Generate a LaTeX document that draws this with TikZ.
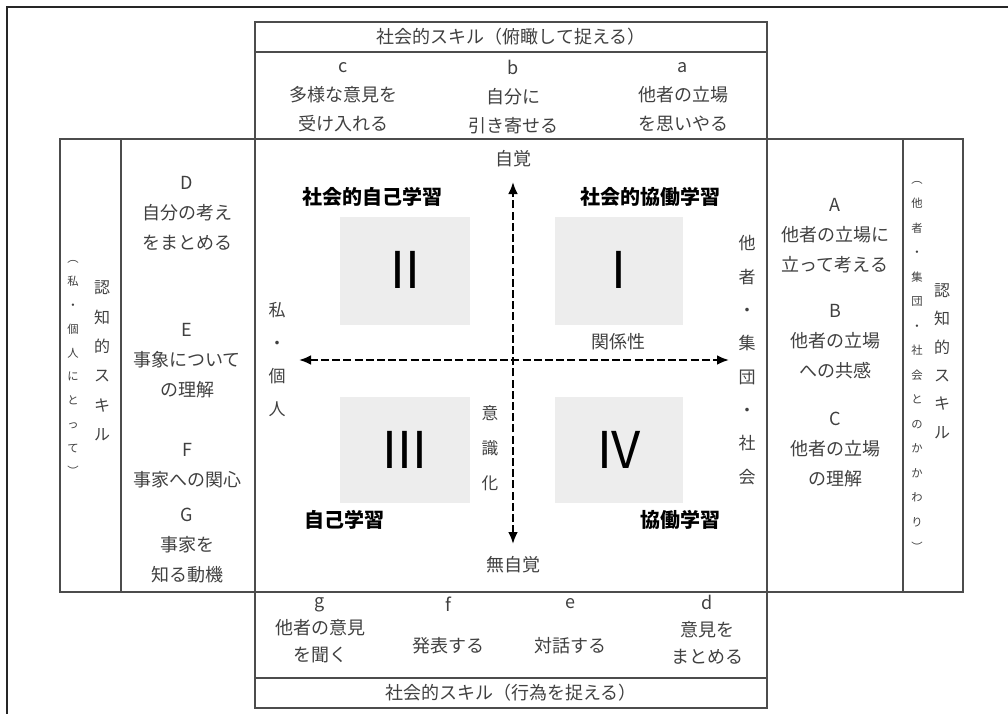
\documentclass[tikz,border=0pt]{standalone}
\usepackage{fontspec}
\setmainfont{Noto Sans CJK JP}
\usetikzlibrary{arrows.meta}

\begin{document}
\begin{tikzpicture}
        [x=0.75pt, y=-0.75pt,
        frameline/.style={draw=black!85, line width=1.1pt},
        cell/.style={draw=black!70, line width=1.4pt},
        quad/.style={fill=black!7},
        txt/.style={font=\fontsize{13.5}{22.5}\selectfont, text=black!75, align=center, inner sep=0pt},
        toprow/.style={font=\fontsize{13.5}{21.75}\selectfont},
        botrow/.style={font=\fontsize{13.5}{20.25}\selectfont},
        heading/.style={font=\fontsize{15}{18}\selectfont\bfseries, text=black, inner sep=0pt},
        roman/.style={font=\fontsize{38}{40}\selectfont, text=black, inner sep=0pt},
        axis/.style={line width=2.2pt, dash pattern=on 6pt off 2.4pt,
            {Latex[length=9pt,width=7.5pt]}-{Latex[length=9pt,width=7.5pt]}}]

        \useasboundingbox (0,0) rectangle (1008,714);

        % outer frame (only top and left edges show)
        \draw[frameline] (7,714) -- (7,7) -- (1008,7);

        % table cells
        \draw[cell] (255,22) rectangle (767,139);
        \draw[cell] (255,52) -- (767,52);
        \draw[cell] (60,139) rectangle (121,592);
        \draw[cell] (121,139) rectangle (255,592);
        \draw[cell] (255,139) rectangle (767,592);
        \draw[cell] (767,139) rectangle (903,592);
        \draw[cell] (903,139) rectangle (963,592);
        \draw[cell] (255,592) rectangle (767,708);
        \draw[cell] (255,678) -- (767,678);

        % quadrant boxes
        \fill[quad] (340,217) rectangle (470,325);
        \fill[quad] (555,217) rectangle (683,325);
        \fill[quad] (340,397) rectangle (470,503);
        \fill[quad] (555,397) rectangle (683,503);

        \node[roman] (q2) at (405,270) {II};
        \node[roman] (q1) at (619,270) {I};
        \node[roman] (q3) at (405,450) {III};
        \node[roman] (q4) at (619,450) {IV};

        % axes
        \coordinate (up) at (513,182);
        \coordinate (dn) at (513,544);
        \coordinate (lt) at (299,360);
        \coordinate (rt) at (729,360);
        \draw[axis] (dn) -- (up);
        \draw[axis] (lt) -- (rt);

        \node[txt] (jikaku) at (513,159) {自覚};
        \node[txt] (mujikaku) at (513,565) {無自覚};
        \node[txt] (kankei) at (618,342) {関係性};
        \node[txt, font=\fontsize{12.5}{26.25}\selectfont] (ishiki) at (490,448) {意\\識\\化};
        \node[txt, font=\fontsize{12.75}{24.75}\selectfont] (watashi) at (277,360) {私\\・\\個\\人};
        \node[txt, font=\fontsize{12.75}{25}\selectfont] (tasha) at (747,360) {他\\者\\・\\集\\団\\・\\社\\会};

        \node[heading] (h2) at (372,197) {社会的自己学習};
        \node[heading] (h1) at (650,197) {社会的協働学習};
        \node[heading, anchor=west] (h3) at (304,520) {自己学習};
        \node[heading, anchor=east] (h4) at (721,520) {協働学習};

        % top row
        \node[txt] (topttl) at (511,37) {社会的スキル（俯瞰して捉える）};
        \node[txt, toprow] (c) at (343,97) {c\\多様な意見を\\受け入れる};
        \node[txt, toprow] (b) at (513,97) {b\\自分に\\引き寄せる};
        \node[txt, toprow] (a) at (683,97) {a\\他者の立場\\を思いやる};

        % bottom row
        \node[txt, botrow] (g) at (320,630) {g\\他者の意見\\を聞く};
        \node[txt] (f) at (448,604) {f};
        \node[txt] (fx) at (448,646) {発表する};
        \node[txt] (e) at (570,604) {e};
        \node[txt] (ex) at (570,646) {対話する};
        \node[txt, botrow] (d) at (707,630) {d\\意見を\\まとめる};
        \node[txt] (botttl) at (511,693) {社会的スキル（行為を捉える）};

        % left column
        \node[txt] (D) at (187,213) {D\\自分の考え\\をまとめる};
        \node[txt] (E) at (187,361) {E\\事象について\\の理解};
        \node[txt] (F) at (187,466) {F\\事家への関心};
        \node[txt] (G) at (187,546) {G\\事家を\\知る動機};
        \node[txt, font=\fontsize{12}{22}\selectfont] (lskill) at (102,361) {認\\知\\的\\ス\\キ\\ル};
        \node[txt, font=\fontsize{8.5}{17.8}\selectfont] (lnote) at (73,368) {︵\\私\\・\\個\\人\\に\\と\\っ\\て\\︶};

        % right column
        \node[txt] (A) at (835,236) {A\\他者の立場に\\立って考える};
        \node[txt] (B) at (835,342) {B\\他者の立場\\への共感};
        \node[txt] (C) at (835,450) {C\\他者の立場\\の理解};
        \node[txt, font=\fontsize{12}{21.3}\selectfont] (rskill) at (942,361) {認\\知\\的\\ス\\キ\\ル};
        \node[txt, font=\fontsize{8.5}{18.4}\selectfont] (rnote) at (917,366) {︵\\他\\者\\・\\集\\団\\・\\社\\会\\と\\の\\か\\か\\わ\\り\\︶};

    \end{tikzpicture}
\end{document}
